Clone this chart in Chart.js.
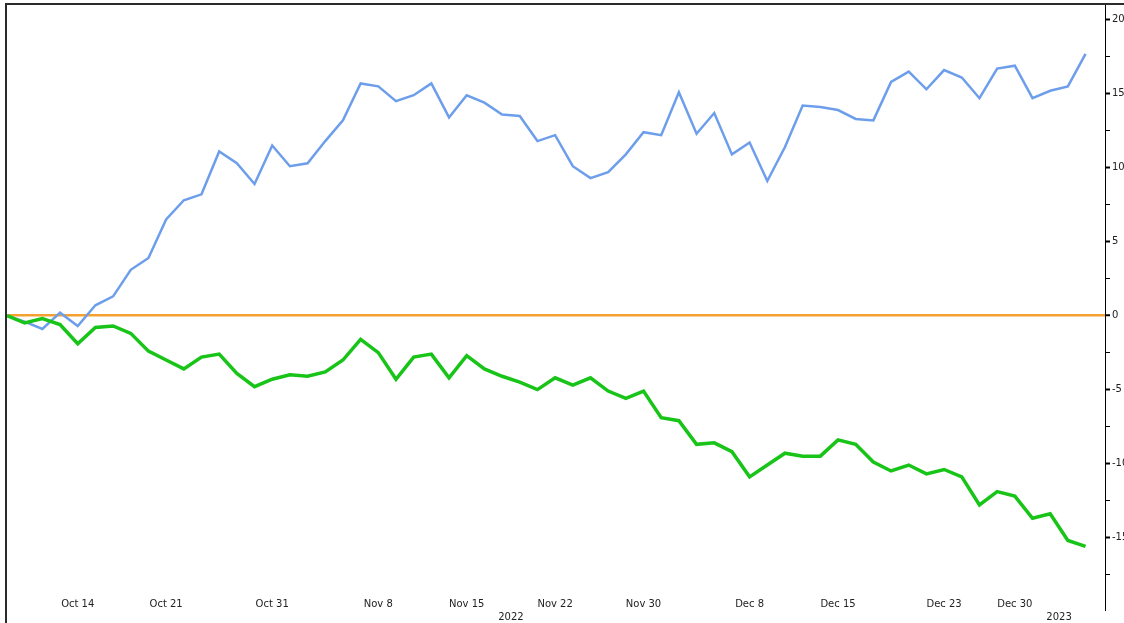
<!DOCTYPE html>
<html>
<head>
<meta charset="utf-8">
<script src="https://cdn.jsdelivr.net/npm/chart.js@4"></script>
<style>
  html, body { margin: 0; padding: 0; background: #fff; overflow: hidden; }
  #frame {
    position: absolute; left: 5px; top: 3px;
    width: 1119px; height: 620px; box-sizing: border-box;
    border-left: 2px solid #2b2b2b; border-top: 2px solid #2b2b2b;
  }
  canvas { display: block; }
</style>
</head>
<body>
<div id="frame"><canvas id="chart" width="1117" height="618"></canvas></div>
<script>
// trading days shown on the chart
const dates = [
  '2022-10-10','2022-10-11','2022-10-12','2022-10-13','2022-10-14',
  '2022-10-17','2022-10-18','2022-10-19','2022-10-20','2022-10-21',
  '2022-10-24','2022-10-25','2022-10-26','2022-10-27','2022-10-28',
  '2022-10-31','2022-11-01','2022-11-02','2022-11-03','2022-11-04',
  '2022-11-07','2022-11-08','2022-11-09','2022-11-10','2022-11-11',
  '2022-11-14','2022-11-15','2022-11-16','2022-11-17','2022-11-18',
  '2022-11-21','2022-11-22','2022-11-23','2022-11-25',
  '2022-11-28','2022-11-29','2022-11-30','2022-12-01','2022-12-02',
  '2022-12-05','2022-12-06','2022-12-07','2022-12-08','2022-12-09',
  '2022-12-12','2022-12-13','2022-12-14','2022-12-15','2022-12-16',
  '2022-12-19','2022-12-20','2022-12-21','2022-12-22','2022-12-23',
  '2022-12-27','2022-12-28','2022-12-29','2022-12-30',
  '2023-01-03','2023-01-04','2023-01-05','2023-01-06'
];

const blueSeries = [
  0, -0.4, -0.9, 0.2, -0.7, 0.7, 1.3, 3.1, 3.9, 6.5,
  7.8, 8.2, 11.1, 10.3, 8.9, 11.5, 10.1, 10.3, 11.8, 13.2,
  15.7, 15.5, 14.5, 14.9, 15.7, 13.4, 14.9, 14.4, 13.6, 13.5,
  11.8, 12.2, 10.1, 9.3, 9.7, 10.9, 12.4, 12.2, 15.1, 12.3,
  13.7, 10.9, 11.7, 9.1, 11.4, 14.2, 14.1, 13.9, 13.3, 13.2,
  15.8, 16.5, 15.3, 16.6, 16.1, 14.7, 16.7, 16.9, 14.7, 15.2,
  15.5, 17.7
];

const greenSeries = [
  0, -0.5, -0.2, -0.6, -1.9, -0.8, -0.7, -1.2, -2.4, -3.0,
  -3.6, -2.8, -2.6, -3.9, -4.8, -4.3, -4.0, -4.1, -3.8, -3.0,
  -1.6, -2.5, -4.3, -2.8, -2.6, -4.2, -2.7, -3.6, -4.1, -4.5,
  -5.0, -4.2, -4.7, -4.2, -5.1, -5.6, -5.1, -6.9, -7.1, -8.7,
  -8.6, -9.2, -10.9, -10.1, -9.3, -9.5, -9.5, -8.4, -8.7, -9.9,
  -10.5, -10.1, -10.7, -10.4, -10.9, -12.8, -11.9, -12.2, -13.7, -13.4,
  -15.2, -15.6
];

// dates that get a label on the time axis
const tickDates = [
  '2022-10-14','2022-10-21','2022-10-31','2022-11-08','2022-11-15','2022-11-22',
  '2022-11-30','2022-12-08','2022-12-15','2022-12-23','2022-12-30'
];
const years = ['2022', '2023'];

const MONTHS = ['Jan','Feb','Mar','Apr','May','Jun','Jul','Aug','Sep','Oct','Nov','Dec'];
function fmtDate(iso) {
  const p = iso.split('-');
  return MONTHS[parseInt(p[1], 10) - 1] + ' ' + parseInt(p[2], 10);
}

const tickIdx = tickDates.map(d => dates.indexOf(d));
// year label sits in the middle of that year's days
const yearPos = years.map(y => {
  const idx = dates.map((d, i) => d.startsWith(y) ? i : -1).filter(i => i >= 0);
  return (idx[0] + idx[idx.length - 1]) / 2;
});

const ORANGE = '#f5a131';
const FONT = { family: 'DejaVu Sans', size: 10 };
const X_MAX = 62.1;

const ctx = document.getElementById('chart').getContext('2d');

new Chart(ctx, {
  type: 'line',
  data: {
    datasets: [
      {
        label: 'green',
        data: greenSeries.map((v, i) => ({ x: i, y: v })),
        borderColor: '#17c417',
        borderWidth: 3.5,
        pointRadius: 0,
        tension: 0,
        xAxisID: 'x',
        yAxisID: 'y'
      },
      {
        label: 'blue',
        data: blueSeries.map((v, i) => ({ x: i, y: v })),
        borderColor: '#6d9eeb',
        borderWidth: 2.5,
        pointRadius: 0,
        tension: 0,
        xAxisID: 'x',
        yAxisID: 'y'
      }
    ]
  },
  options: {
    responsive: false,
    animation: false,
    layout: { padding: 0 },
    plugins: {
      legend: { display: false },
      tooltip: { enabled: false }
    },
    scales: {
      x: {
        type: 'linear',
        position: 'bottom',
        weight: 1,
        min: 0,
        max: X_MAX,
        grid: { display: false, drawTicks: false },
        border: { display: false },
        afterBuildTicks: s => { s.ticks = tickIdx.map(i => ({ value: i })); },
        ticks: {
          autoSkip: false,
          maxRotation: 0,
          mirror: true,   // date labels sit just inside the plot, above its lower edge
          padding: 0,
          color: '#222',
          font: FONT,
          callback: v => fmtDate(dates[v])
        },
        afterFit: s => { s.height = 0; s.paddingLeft = 0; s.paddingRight = 0; }
      },
      x2: {
        type: 'linear',
        position: 'bottom',
        weight: 2,
        min: 0,
        max: X_MAX,
        grid: { display: false, drawTicks: false },
        border: { display: false },
        afterBuildTicks: s => { s.ticks = yearPos.map(v => ({ value: v })); },
        ticks: {
          autoSkip: false,
          maxRotation: 0,
          padding: 1,
          color: '#222',
          font: FONT,
          callback: (v, i) => years[i]
        },
        afterFit: s => { s.height = 13; s.paddingLeft = 0; s.paddingRight = 0; }
      },
      y: {
        position: 'right',
        min: -19.9,
        max: 21,
        afterBuildTicks: s => { s.ticks = s.ticks.filter(t => t.value >= s.min && t.value <= s.max); },
        ticks: {
          stepSize: 2.5,
          includeBounds: false,
          autoSkip: false,
          padding: 2,
          color: '#222',
          font: FONT,
          callback: v => (v % 5 === 0 ? v : '')
        },
        grid: {
          drawOnChartArea: true,
          color: c => (c.tick && c.tick.value === 0 ? ORANGE : 'rgba(0,0,0,0)'),
          lineWidth: c => (c.tick && c.tick.value === 0 ? 2.5 : 1),
          tickColor: '#000',
          tickLength: 5,
          tickWidth: c => (c.tick && c.tick.value % 5 === 0 ? 2 : 1)
        },
        border: { display: true, color: '#000', width: 1 },
        afterFit: s => { s.width = 19; s.paddingTop = 0; s.paddingBottom = 0; }
      }
    }
  }
});
</script>
</body>
</html>
